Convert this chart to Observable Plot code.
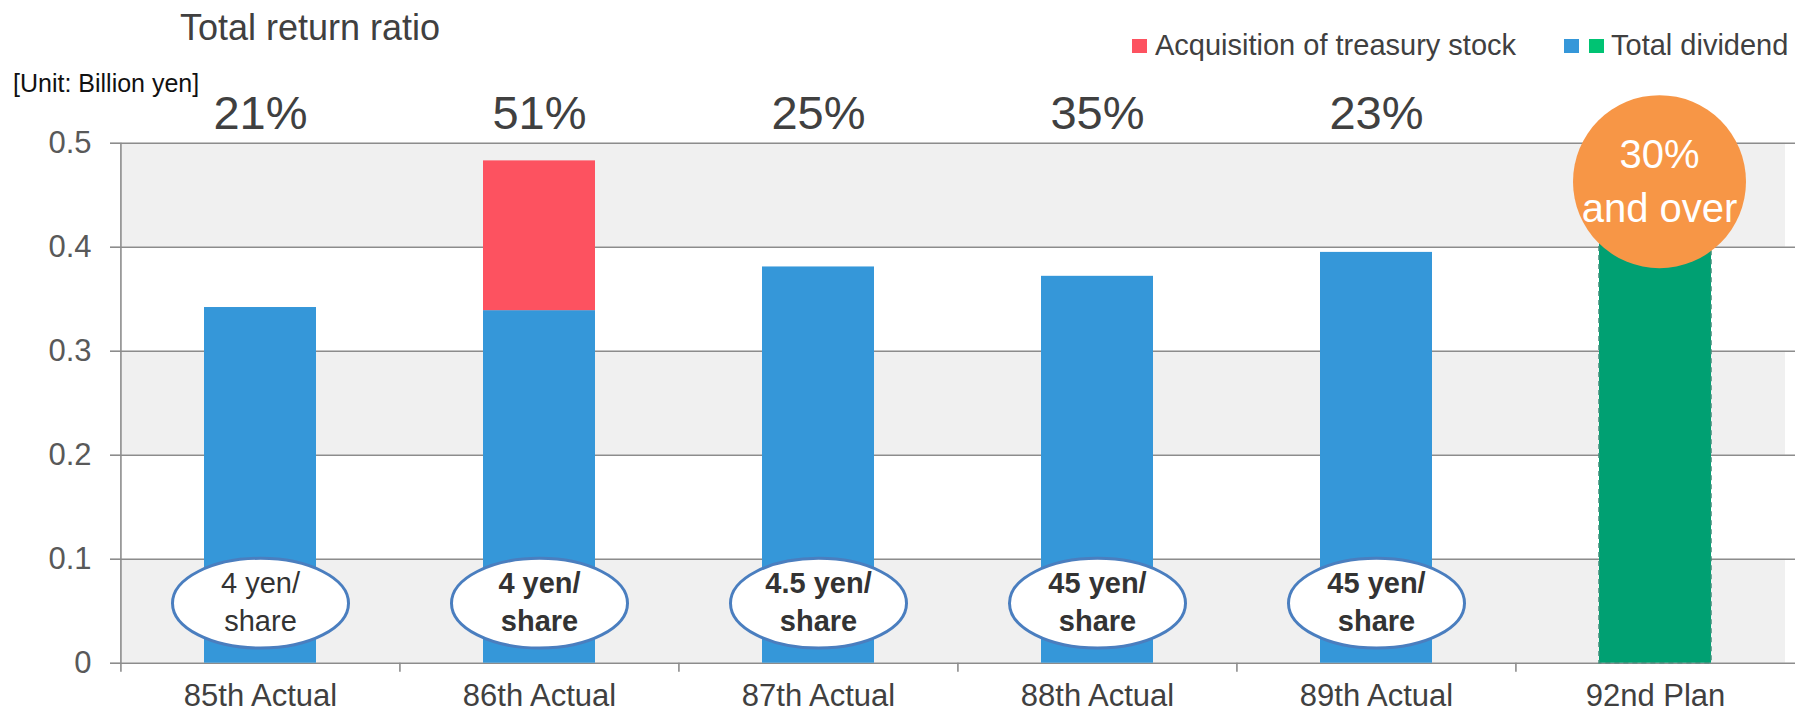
<!DOCTYPE html>
<html><head><meta charset="utf-8">
<script src="https://cdn.jsdelivr.net/npm/d3@7"></script>
<script src="https://cdn.jsdelivr.net/npm/@observablehq/plot@0.6"></script>
<style>
body{margin:0;background:#fff;font-family:Arial,"Liberation Sans",sans-serif;}
#wrap{position:relative;width:1795px;height:713px;overflow:hidden;}
.t{position:absolute;white-space:nowrap;line-height:1;}
.sw{position:absolute;width:15px;height:14px;}
</style></head><body>
<div id="wrap">
  <div id="chart"></div>
  <div class="t" style="left:180px;top:10px;font-size:36px;color:#404040;">Total return ratio</div>
  <div class="t" style="left:13px;top:71px;font-size:25px;color:#111;">[Unit: Billion yen]</div>
  <div class="sw" style="left:1132px;top:39px;background:#fd5260;"></div>
  <div class="t" style="left:1155px;top:30.5px;font-size:29px;color:#404040;">Acquisition of treasury stock</div>
  <div class="sw" style="left:1564px;top:39px;background:#3597d9;"></div>
  <div class="sw" style="left:1589px;top:39px;background:#00c373;"></div>
  <div class="t" style="left:1611px;top:30.5px;font-size:29px;color:#404040;">Total dividend</div>
</div>
<script>
const categories = ["85th Actual","86th Actual","87th Actual","88th Actual","89th Actual","92nd Plan"];
const dividend = [0.342, 0.339, 0.381, 0.372, 0.395, 0.41];
const acquisition = [0, 0.144, 0, 0, 0, 0];
const ratioLabels = ["21%","51%","25%","35%","23%"];
const perShare = ["4 yen/\nshare","4 yen/\nshare","4.5 yen/\nshare","45 yen/\nshare","45 yen/\nshare"];
const planTarget = "30%\nand over";
const yTicks = [0, 0.1, 0.2, 0.3, 0.4, 0.5];
const shadedBands = [[0, 0.1], [0.2, 0.3], [0.4, 0.5]];

const W = 1795, H = 713, mL = 120, mR = 0, mT = 142.7, mB = 50.3;
const step = (W - mL - mR) / categories.length;

const rows = [];
categories.forEach((c, i) => {
  const plan = i === categories.length - 1;
  rows.push({cat: c, series: plan ? "plan" : "dividend", value: dividend[i]});
  if (acquisition[i] > 0) rows.push({cat: c, series: "acquisition", value: acquisition[i]});
});
const planRows = rows.filter(d => d.series === "plan");
const ratioRows = ratioLabels.map((t, i) => ({cat: categories[i], t}));
const shareRows = perShare.map((t, i) => ({cat: categories[i], t, i}));

const ellipse = {
  draw(ctx, size) {
    const r = Math.sqrt(size / Math.PI), rx = r, ry = r * 0.51, k = 0.5523;
    ctx.moveTo(rx, 0);
    ctx.bezierCurveTo(rx, ry * k, rx * k, ry, 0, ry);
    ctx.bezierCurveTo(-rx * k, ry, -rx, ry * k, -rx, 0);
    ctx.bezierCurveTo(-rx, -ry * k, -rx * k, -ry, 0, -ry);
    ctx.bezierCurveTo(rx * k, -ry, rx, -ry * k, rx, 0);
    ctx.closePath();
  }
};

const chart = Plot.plot({
  width: W, height: H,
  marginLeft: mL, marginRight: mR, marginTop: mT, marginBottom: mB,
  style: {fontFamily: "Arial, 'Liberation Sans', sans-serif", background: "transparent", overflow: "visible"},
  x: {domain: categories, paddingInner: 0.6, paddingOuter: 0.3, axis: null, label: null},
  y: {domain: [0, 0.5], axis: null, label: null},
  color: {domain: ["dividend", "acquisition", "plan"], range: ["#3597d9", "#fd5260", "#00a072"]},
  marks: [
    Plot.rectY(shadedBands, {y1: d => d[0], y2: d => d[1], fill: "#f0f0f0", insetRight: 10}),
    Plot.ruleY(yTicks, {stroke: "#8c8c8c", strokeWidth: 1.6}),
    Plot.barY(rows, {x: "cat", y: "value", fill: "series", ariaLabel: "bars"}),
    Plot.barY(planRows, {x: "cat", y: "value", fill: "none", stroke: "#3c8f7a", strokeWidth: 1.5, strokeDasharray: "5,4"}),
    Plot.ruleX([categories[0]], {x: d => d, dx: -step / 2, insetBottom: -9, stroke: "#8c8c8c", strokeWidth: 1.6}),
    Plot.ruleX(categories.slice(1), {x: d => d, y1: 0, y2: 0, dx: -step / 2, insetBottom: -9, stroke: "#8c8c8c", strokeWidth: 1.6}),
    Plot.axisY({ticks: yTicks, tickFormat: d => String(d), tickSize: 10, tickPadding: 19, fontSize: 31, color: "#595959", stroke: "#8c8c8c", strokeWidth: 1.6, label: null}),
    Plot.axisX({tickSize: 0, tickPadding: 21, fontSize: 31, color: "#404040", label: null}),
    Plot.text(ratioRows, {x: "cat", text: "t", frameAnchor: "top", lineAnchor: "bottom", dy: -14.4, fontSize: 47, fill: "#404040"}),
    Plot.dot(shareRows, {x: "cat", frameAnchor: "bottom", dy: -60, symbol: ellipse, r: 88, fill: "white", stroke: "#4a7ebf", strokeWidth: 3, ariaLabel: "ellipses"}),
    Plot.text(shareRows.filter(d => d.i === 0), {x: "cat", text: "t", frameAnchor: "bottom", lineAnchor: "middle", dy: -62.9, fontSize: 29, lineHeight: 1.31, fill: "#333"}),
    Plot.text(shareRows.filter(d => d.i > 0), {x: "cat", text: "t", frameAnchor: "bottom", lineAnchor: "middle", dy: -62.9, fontSize: 29, lineHeight: 1.31, fontWeight: "bold", fill: "#333"}),
    Plot.dot([categories[categories.length - 1]], {x: d => d, frameAnchor: "top", dy: 38.5, dx: 4, r: 86.5, fill: "#f79646", ariaLabel: "target"}),
    Plot.text([planTarget], {x: () => categories[categories.length - 1], text: d => d, frameAnchor: "top", lineAnchor: "middle", dy: 35, dx: 4, fontSize: 40, lineHeight: 1.35, fill: "white"})
  ]
});
document.getElementById("chart").appendChild(chart);
const setF = (lab, f) => { const g = chart.querySelector(`[aria-label="${lab}"]`); if (g) g.style.filter = f; };
setF("bars", "drop-shadow(2px 1px 2px rgba(0,0,0,0.25))");
setF("ellipses", "drop-shadow(2px 3px 3px rgba(0,0,0,0.3))");
setF("target", "drop-shadow(2px 3px 4px rgba(0,0,0,0.35))");
</script>
</body></html>
